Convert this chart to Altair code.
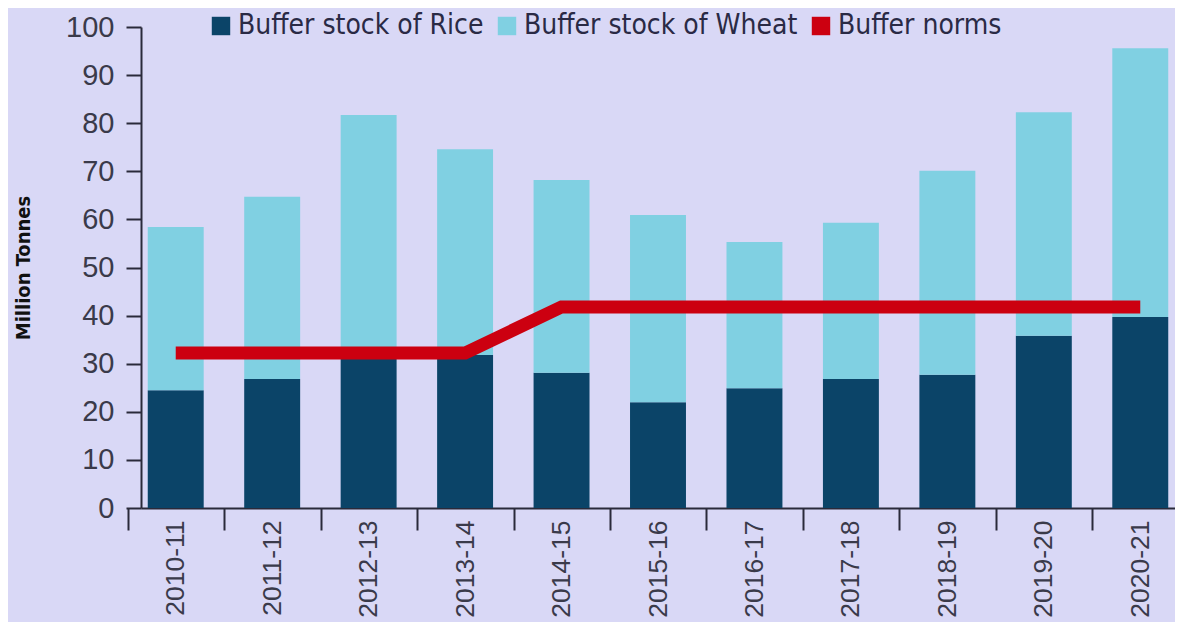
import altair as alt
import pandas as pd

years = ["2010-11", "2011-12", "2012-13", "2013-14", "2014-15", "2015-16",
         "2016-17", "2017-18", "2018-19", "2019-20", "2020-21"]
rice = [24.5, 26.8, 31.0, 31.8, 28.1, 22.0, 24.9, 26.8, 27.7, 35.8, 39.7]
wheat = [33.9, 37.9, 50.7, 42.8, 40.1, 38.9, 30.4, 32.5, 42.4, 46.5, 55.9]
norms = [32.2, 32.2, 32.2, 32.2, 41.8, 41.8, 41.8, 41.8, 41.8, 41.8, 41.8]

series = ["Buffer stock of Rice", "Buffer stock of Wheat", "Buffer norms"]
colors = ["#0b4468", "#80d0e2", "#cc0010"]

rows = []
for i, y in enumerate(years):
    rows.append({"year": y, "series": series[0], "value": rice[i], "ord": 0})
    rows.append({"year": y, "series": series[1], "value": wheat[i], "ord": 1})
bars_df = pd.DataFrame(rows)
line_df = pd.DataFrame({"year": years, "norm": norms})

FONT = "Liberation Sans"
COND = "DejaVu Sans Condensed, Liberation Sans"

xenc = alt.X(
    "year:N", sort=years,
    scale=alt.Scale(paddingInner=0.42, paddingOuter=0.07),
    axis=alt.Axis(title=None, labelAngle=270, tickSize=22, tickOffset=-48,
                  labelOffset=48, labelPadding=-10, labelFontSize=26.5,
                  labelFont=FONT, labelColor="#3a3a4a",
                  domainColor="#2a2a3a", domainWidth=2,
                  tickColor="#2a2a3a", tickWidth=2),
)

bars = alt.Chart(bars_df).mark_bar().encode(
    x=xenc,
    y=alt.Y("value:Q", stack="zero",
            scale=alt.Scale(domain=[0, 100], nice=False),
            axis=alt.Axis(values=list(range(0, 101, 10)), tickSize=15,
                          labelPadding=12, labelFontSize=29, labelFont=FONT,
                          labelColor="#3a3a4a", domainColor="#2a2a3a",
                          domainWidth=2, tickColor="#2a2a3a", tickWidth=2,
                          grid=False, title="Million Tonnes",
                          titleFontSize=20, titleFont=COND,
                          titleFontWeight="bold", titleColor="#111111",
                          titlePadding=32)),
    color=alt.Color("series:N",
                    scale=alt.Scale(domain=series, range=colors),
                    legend=alt.Legend(orient="none", legendX=66, legendY=-15,
                                      direction="horizontal", title=None,
                                      symbolType="square", symbolSize=340,
                                      symbolStrokeWidth=0, labelFontSize=28,
                                      labelFont=COND, labelColor="#2a2a45",
                                      labelLimit=500,
                                      labelOffset=3, columnPadding=9)),
    order=alt.Order("ord:Q"),
)

line = alt.Chart(line_df).mark_line(strokeWidth=13, color="#cc0010").encode(
    x=alt.X("year:N", sort=years),
    y=alt.Y("norm:Q"),
)

chart = alt.layer(bars, line).properties(
    width=1167, height=614, background="#d9d8f6",
    autosize=alt.AutoSizeParams(type="fit", contains="padding"),
    padding={"left": 5, "top": 5, "right": 0, "bottom": 4},
).configure_view(stroke=None)

chart.save("out.html", embed_options={"renderer": "svg", "actions": False})
